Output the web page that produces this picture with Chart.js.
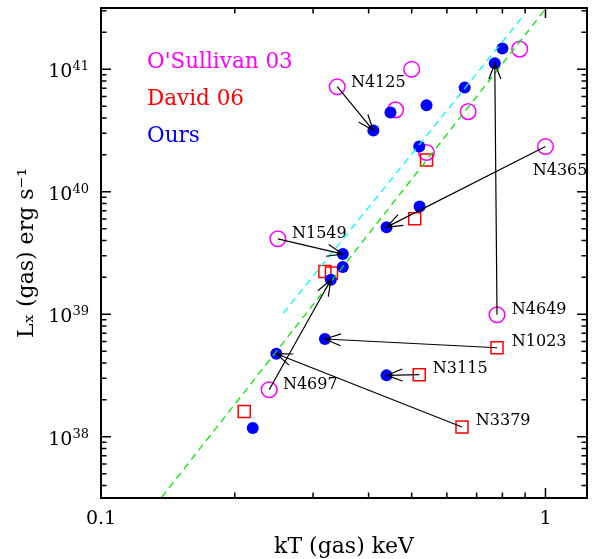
<!DOCTYPE html>
<html>
<head>
<meta charset="utf-8">
<script src="https://cdn.jsdelivr.net/npm/chart.js@4.4.1/dist/chart.umd.min.js"></script>
<style>
html, body { margin: 0; padding: 0; background: #fff; }
#wrap { width: 592px; height: 559px; }
</style>
</head>
<body>
<div id="wrap"><canvas id="lxkt" width="592" height="559"></canvas></div>
<script>
// Ours (filled blue)
const oursKT = [0.800, 0.769, 0.658, 0.540, 0.448, 0.410, 0.520, 0.521, 0.439, 0.350, 0.350, 0.329, 0.319, 0.248, 0.439, 0.2195];
const oursLx = [1.48e41, 1.12e41, 7.08e40, 5.08e40, 4.43e40, 3.16e40, 2.34e40, 7.57e39, 5.14e39, 3.10e39, 2.43e39, 1.91e39, 6.28e38, 4.76e38, 3.17e38, 1.18e38];

// O'Sullivan 03 (open magenta circles)
const osullivanKT = [0.875, 0.500, 0.340, 0.460, 0.670, 0.540, 1.00, 0.250, 0.778, 0.239];
const osullivanLx = [1.46e41, 1.0e41, 7.2e40, 4.66e40, 4.51e40, 2.09e40, 2.34e40, 4.13e39, 9.9e38, 2.42e38];

// David 06 (open red squares)
const davidKT = [0.540, 0.508, 0.319, 0.330, 0.210, 0.778, 0.520, 0.649];
const davidLx = [1.82e40, 6.01e39, 2.23e39, 2.17e39, 1.61e38, 5.33e38, 3.21e38, 1.20e38];

// dashed relations (end points)
const greenKT = [0.1369, 0.996];
const greenLx = [3.2e37, 3.05e41];
const cyanKT = [0.257, 0.898];
const cyanLx = [1.02e39, 2.82e41];

// arrows: literature value -> our value
const arrowNames = ['N4125', 'N4365', 'N1549', 'N4649', 'N1023', 'N3115', 'N3379', 'N4697'];
const arrowFromKT = [0.340, 1.00, 0.250, 0.778, 0.778, 0.520, 0.649, 0.239];
const arrowFromLx = [7.2e40, 2.34e40, 4.13e39, 9.9e38, 5.33e38, 3.21e38, 1.20e38, 2.42e38];
const arrowToKT = [0.410, 0.439, 0.350, 0.769, 0.319, 0.439, 0.248, 0.329];
const arrowToLx = [3.16e40, 5.14e39, 3.10e39, 1.12e41, 6.28e38, 3.17e38, 4.76e38, 1.91e39];
const labelKT = [0.365, 0.936, 0.269, 0.840, 0.840, 0.558, 0.697, 0.2566];
const labelLx = [7.73e40, 1.48e40, 4.54e39, 1.09e39, 5.97e38, 3.59e38, 1.35e38, 2.66e38];

// legend
const legendText = ["O'Sullivan 03", 'David 06', 'Ours'];
const legendColors = ['#ff00ff', '#ff0000', '#0000ff'];

// tick labels
const xTickValues = [0.1, 1];
const xTickText = ['0.1', '1'];
const yTickExps = [38, 39, 40, 41];

const FONT = 'DejaVu Serif';

function toPoints(xs, ys) {
    return xs.map((x, i) => ({ x: x, y: ys[i] }));
}

function drawArrow(ctx, x0, y0, x1, y1) {
    const ang = Math.atan2(y1 - y0, x1 - x0);
    const head = 17;
    const spread = 0.36;
    ctx.beginPath();
    ctx.moveTo(x0, y0);
    ctx.lineTo(x1, y1);
    ctx.moveTo(x1 - head * Math.cos(ang - spread), y1 - head * Math.sin(ang - spread));
    ctx.lineTo(x1, y1);
    ctx.lineTo(x1 - head * Math.cos(ang + spread), y1 - head * Math.sin(ang + spread));
    ctx.stroke();
}

// frame with inward ticks on all four sides, 10^n labels, arrows and legend
const frameTicks = {
    id: 'frameTicks',
    afterDraw(chart) {
        const { ctx, chartArea: a, scales: { x, y } } = chart;
        ctx.save();
        ctx.strokeStyle = '#000';
        ctx.lineWidth = 1.5;
        ctx.beginPath();
        for (let e = -1; e <= 0; e++) {
            for (let m = 1; m <= 9; m++) {
                const v = m * Math.pow(10, e);
                if (v < x.min * 0.999 || v > x.max) continue;
                const px = x.getPixelForValue(v);
                const len = m === 1 ? 10 : 5.5;
                ctx.moveTo(px, a.bottom); ctx.lineTo(px, a.bottom - len);
                ctx.moveTo(px, a.top); ctx.lineTo(px, a.top + len);
            }
        }
        for (let e = 37; e <= 41; e++) {
            for (let m = 1; m <= 9; m++) {
                const v = m * Math.pow(10, e);
                if (v < y.min || v > y.max) continue;
                const py = y.getPixelForValue(v);
                const len = m === 1 ? 10 : 5.5;
                ctx.moveTo(a.left, py); ctx.lineTo(a.left + len, py);
                ctx.moveTo(a.right, py); ctx.lineTo(a.right - len, py);
            }
        }
        ctx.stroke();
        ctx.lineWidth = 2;
        ctx.strokeRect(a.left, a.top, a.right - a.left, a.bottom - a.top);

        // y labels as 10 with a raised exponent
        ctx.fillStyle = '#000';
        ctx.textBaseline = 'alphabetic';
        yTickExps.forEach((e) => {
            const py = y.getPixelForValue(Math.pow(10, e));
            const right = a.left - 12;
            ctx.font = '13px "' + FONT + '"';
            ctx.textAlign = 'right';
            const expW = ctx.measureText(String(e)).width;
            ctx.fillText(String(e), right, py + 1);
            ctx.font = '19px "' + FONT + '"';
            ctx.fillText('10', right - expW, py + 8);
        });
        ctx.restore();
    },
    afterDatasetsDraw(chart) {
        const { ctx, chartArea: a, scales: { x, y } } = chart;
        ctx.save();
        ctx.strokeStyle = '#000';
        ctx.lineWidth = 1.2;
        arrowNames.forEach((name, i) => {
            drawArrow(ctx,
                x.getPixelForValue(arrowFromKT[i]), y.getPixelForValue(arrowFromLx[i]),
                x.getPixelForValue(arrowToKT[i]), y.getPixelForValue(arrowToLx[i]));
        });
        ctx.fillStyle = '#000';
        ctx.font = '16px "' + FONT + '"';
        ctx.textAlign = 'left';
        ctx.textBaseline = 'middle';
        arrowNames.forEach((name, i) => {
            ctx.fillText(name, x.getPixelForValue(labelKT[i]), y.getPixelForValue(labelLx[i]));
        });
        ctx.font = '21.5px "' + FONT + '"';
        legendText.forEach((t, i) => {
            ctx.fillStyle = legendColors[i];
            ctx.fillText(t, a.left + 46, a.top + 54 + i * 37);
        });
        ctx.restore();
    }
};

const ctx = document.getElementById('lxkt');
new Chart(ctx, {
    type: 'scatter',
    data: {
        datasets: [
            {
                label: 'green',
                data: toPoints(greenKT, greenLx),
                showLine: true,
                borderColor: '#00ee00',
                borderWidth: 1.3,
                borderDash: [7, 5],
                pointRadius: 0,
                order: 0,
            },
            {
                label: 'cyan',
                data: toPoints(cyanKT, cyanLx),
                showLine: true,
                borderColor: '#00ffff',
                borderWidth: 1.3,
                borderDash: [7, 5],
                pointRadius: 0,
                order: 1,
            },
            {
                label: 'Ours',
                data: toPoints(oursKT, oursLx),
                pointStyle: 'circle',
                pointRadius: 6,
                backgroundColor: '#0000ff',
                borderWidth: 0,
                order: 2,
            },
            {
                label: 'David 06',
                data: toPoints(davidKT, davidLx),
                pointStyle: 'rect',
                pointRadius: 8.5,
                backgroundColor: 'rgba(0,0,0,0)',
                borderColor: '#ff0000',
                borderWidth: 1.5,
                order: 3,
            },
            {
                label: "O'Sullivan 03",
                data: toPoints(osullivanKT, osullivanLx),
                pointStyle: 'circle',
                pointRadius: 7.8,
                backgroundColor: 'rgba(0,0,0,0)',
                borderColor: '#ff00ff',
                borderWidth: 1.5,
                order: 4,
            },
        ],
    },
    options: {
        responsive: false,
        animation: false,
        events: [],
        layout: { autoPadding: false, padding: { left: 0, right: 5, top: 8, bottom: 0 } },
        plugins: {
            legend: { display: false },
            tooltip: { enabled: false },
        },
        scales: {
            x: {
                type: 'logarithmic',
                min: 0.1,
                max: 1.24,
                grid: { display: false, drawTicks: false },
                border: { display: false },
                ticks: {
                    autoSkip: false,
                    maxRotation: 0,
                    padding: 10,
                    color: '#000',
                    font: { family: FONT, size: 19 },
                    callback: (value) => {
                        const k = xTickValues.findIndex(v => Math.abs(v - value) < 1e-9);
                        return k >= 0 ? xTickText[k] : '';
                    },
                },
                title: {
                    display: true,
                    text: 'kT (gas) keV',
                    color: '#000',
                    font: { family: FONT, size: 22, lineHeight: 1 },
                    padding: { top: 0, bottom: 1 },
                },
                afterFit: (scale) => {
                    scale.height = 61;
                    scale.paddingLeft = 0;
                    scale.paddingRight = 0;
                },
            },
            y: {
                type: 'logarithmic',
                min: Math.pow(10, 37.5),
                max: Math.pow(10, 41.5),
                grid: { display: false, drawTicks: false },
                border: { display: false },
                ticks: {
                    autoSkip: false,
                    padding: 11,
                    font: { family: FONT, size: 19 },
                    callback: () => '',
                },
                title: {
                    display: true,
                    text: 'Lₓ (gas) erg s⁻¹',
                    color: '#000',
                    font: { family: FONT, size: 22, lineHeight: 1 },
                    padding: { top: 16, bottom: 0 },
                },
                afterFit: (scale) => {
                    scale.width = 101;
                    scale.paddingTop = 0;
                    scale.paddingBottom = 0;
                },
            },
        },
    },
    plugins: [frameTicks],
});
</script>
</body>
</html>
